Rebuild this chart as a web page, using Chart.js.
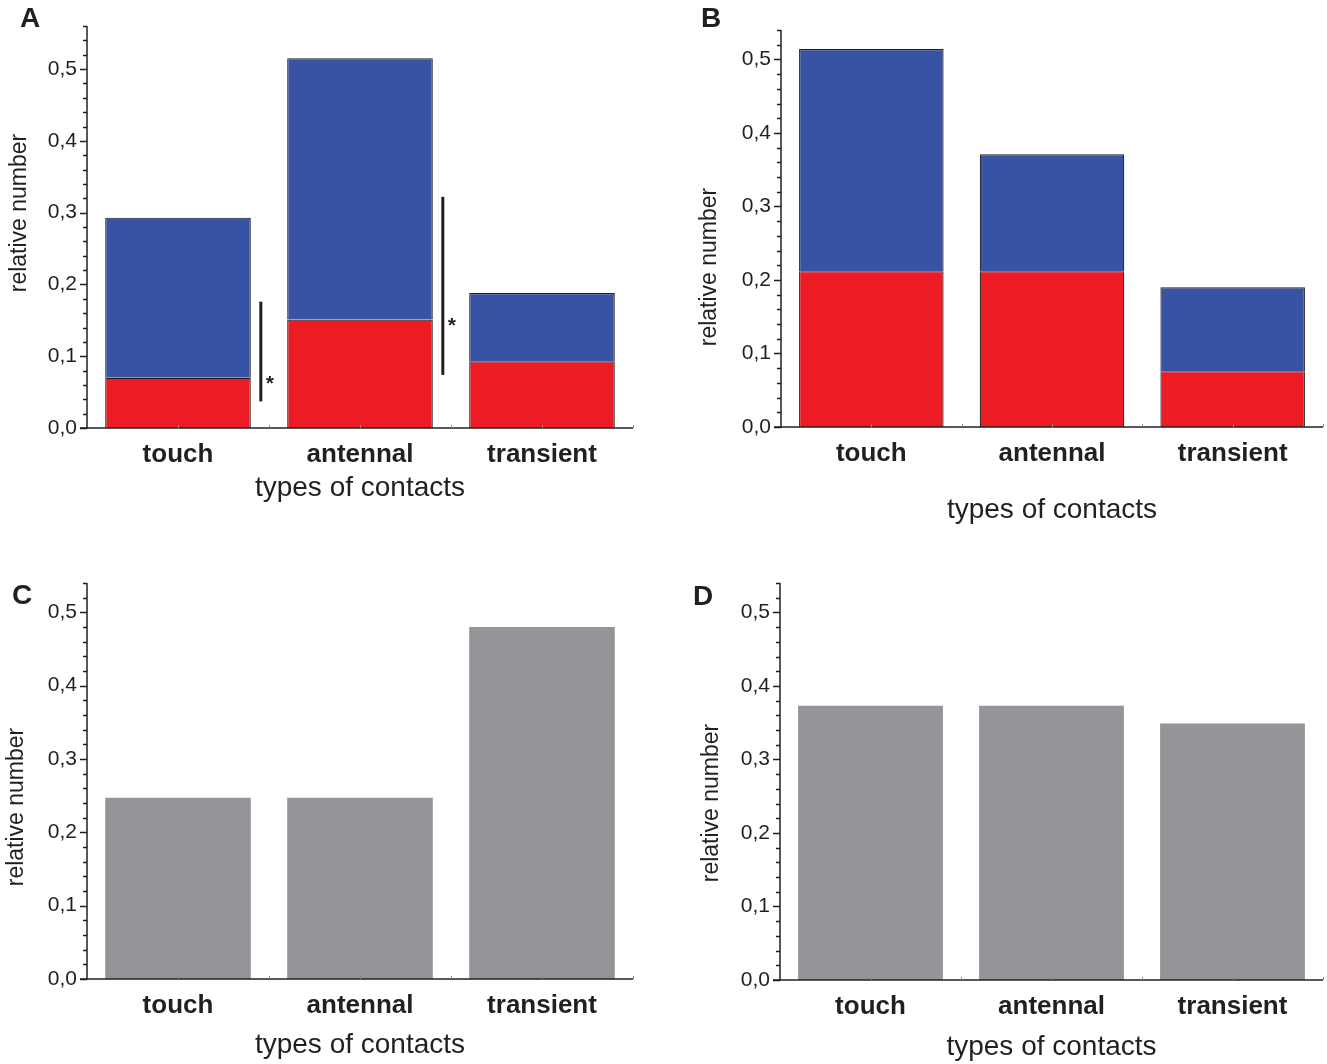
<!DOCTYPE html>
<html>
<head>
<meta charset="utf-8">
<script src="https://cdn.jsdelivr.net/npm/chart.js@4.4.1/dist/chart.umd.min.js"></script>
<style>
  body { margin: 0; background: #fff; }
  #page { position: relative; width: 1327px; height: 1064px; overflow: hidden; }
  .panel { position: absolute; }
</style>
</head>
<body>
<div id="page">
  <div class="panel" id="boxA" style="left:0;top:0;width:663px;height:530px"><canvas id="chartA"></canvas></div>
  <div class="panel" id="boxB" style="left:663px;top:0;width:664px;height:530px"><canvas id="chartB"></canvas></div>
  <div class="panel" id="boxC" style="left:0;top:530px;width:663px;height:534px"><canvas id="chartC"></canvas></div>
  <div class="panel" id="boxD" style="left:663px;top:530px;width:664px;height:534px"><canvas id="chartD"></canvas></div>
</div>
<script>
// ==================== DATA ====================
const categories = ['touch', 'antennal', 'transient'];

// Panel A (stacked: red part at the bottom, blue part on top)
const aRed = [0.070, 0.151, 0.093];
const aBlue = [0.223, 0.364, 0.095];
// significance bars in panel A (one between touch/antennal, one between antennal/transient)
const sigLow = [0.037, 0.074];
const sigHigh = [0.176, 0.322];
const sigStar = [0.067, 0.148];

// Panel B
const bRed = [0.212, 0.212, 0.076];
const bBlue = [0.302, 0.159, 0.114];

// Panels C and D
const cValues = [0.247, 0.247, 0.480];
const dValues = [0.373, 0.373, 0.349];

const yTickLabels = ['0,0', '0,1', '0,2', '0,3', '0,4', '0,5'];

// ==================== STYLE ====================
const ink = '#231F20';
const blue = '#3853A4';
const red = '#ED1C24';
const grey = '#939598';
const fontFamily = "'Liberation Sans', Arial, Helvetica, sans-serif";

// ==================== PLUGIN: axes decorations ====================
const decorPlugin = {
    id: 'decor',
    afterDraw(chart, args, opts) {
        const ctx = chart.ctx;
        const x = chart.scales.x;
        const y = chart.scales.y;
        const area = chart.chartArea;
        ctx.save();
        ctx.strokeStyle = ink;
        ctx.lineWidth = 1.5;

        // y axis line + major/minor ticks (outward)
        ctx.beginPath();
        ctx.moveTo(area.left, area.top);
        ctx.lineTo(area.left, area.bottom + 0.75);
        const n = Math.round(opts.max / 0.02);
        for (let k = 0; k <= n; k++) {
            const py = Math.round(y.getPixelForValue(k * 0.02)) + 0.5;
            const len = k % 5 === 0 ? 7 : 4;
            ctx.moveTo(area.left - len, py);
            ctx.lineTo(area.left, py);
        }
        ctx.stroke();

        // x axis line + small inward ticks at centers and boundaries
        ctx.beginPath();
        ctx.moveTo(area.left - 7, area.bottom);
        ctx.lineTo(area.right, area.bottom);
        ctx.stroke();
        ctx.lineWidth = 1;
        ctx.strokeStyle = '#8a8a8a';
        ctx.beginPath();
        for (let i = 0; i < categories.length; i++) {
            const cx = x.getPixelForValue(i);
            const w = x.width / categories.length;
            [cx, cx + w / 2].forEach(px => {
                ctx.moveTo(Math.round(px) + 0.5, area.bottom);
                ctx.lineTo(Math.round(px) + 0.5, area.bottom - 3);
            });
        }
        ctx.stroke();

        // significance bars
        if (opts.sig) {
            const w = x.width / categories.length;
            ctx.strokeStyle = ink;
            ctx.lineWidth = 3;
            ctx.fillStyle = ink;
            ctx.font = 'bold 21px ' + fontFamily;
            ctx.textAlign = 'center';
            ctx.textBaseline = 'middle';
            for (let i = 0; i < sigLow.length; i++) {
                const px = x.getPixelForValue(i) + 0.455 * w;
                ctx.beginPath();
                ctx.moveTo(px, y.getPixelForValue(sigHigh[i]));
                ctx.lineTo(px, y.getPixelForValue(sigLow[i]));
                ctx.stroke();
                ctx.fillText('*', px + 9, y.getPixelForValue(sigStar[i]) + 4);
            }
        }

        // y axis title
        ctx.fillStyle = ink;
        ctx.font = '23px ' + fontFamily;
        ctx.textAlign = 'center';
        ctx.textBaseline = 'middle';
        ctx.save();
        ctx.translate(opts.yTitle[0], opts.yTitle[1]);
        ctx.rotate(-Math.PI / 2);
        ctx.fillText('relative number', 0, 0);
        ctx.restore();

        // panel letter
        ctx.font = 'bold 28px ' + fontFamily;
        ctx.fillText(opts.letter, opts.letterPos[0], opts.letterPos[1]);
        ctx.restore();
    }
};

// ==================== CHART FACTORY ====================
function makePanel(canvasId, box, area, datasets, max, xTitleY, yTitle, letter, letterPos, sig) {
    const local = {
        l: area.l - box.left, r: area.r - box.left,
        t: area.t - box.top, b: area.b - box.top
    };
    const titleSize = 28;
    return new Chart(document.getElementById(canvasId), {
        type: 'bar',
        data: { labels: categories, datasets: datasets },
        plugins: [decorPlugin],
        options: {
            responsive: true,
            maintainAspectRatio: false,
            animation: false,
            events: [],
            layout: { padding: { left: 0, top: local.t, right: box.width - local.r, bottom: 0 } },
            plugins: {
                legend: { display: false },
                tooltip: { enabled: false },
                decor: {
                    max: max,
                    sig: sig,
                    yTitle: [yTitle[0] - box.left, yTitle[1] - box.top],
                    letter: letter,
                    letterPos: [letterPos[0] - box.left, letterPos[1] - box.top]
                }
            },
            datasets: { bar: { categoryPercentage: 1, barPercentage: 0.8 } },
            scales: {
                x: {
                    stacked: true,
                    grid: { display: false, drawTicks: false },
                    border: { display: false },
                    ticks: {
                        color: ink,
                        padding: 11,
                        font: { family: fontFamily, size: 26, weight: 'bold' }
                    },
                    title: {
                        display: true,
                        text: 'types of contacts',
                        color: ink,
                        font: { family: fontFamily, size: titleSize, lineHeight: 1 },
                        padding: { top: 0, bottom: (box.height - (xTitleY - box.top)) - titleSize / 2 }
                    },
                    afterFit: s => { s.height = box.height - local.b; }
                },
                y: {
                    stacked: true,
                    min: 0,
                    max: max,
                    grid: { display: false, drawTicks: false },
                    border: { display: false },
                    ticks: {
                        stepSize: 0.1,
                        includeBounds: false,
                        color: ink,
                        padding: 10,
                        font: { family: fontFamily, size: 21 },
                        callback: v => yTickLabels[Math.round(v * 10)]
                    },
                    afterFit: s => { s.width = local.l; }
                }
            }
        }
    });
}

function stacked(redVals, blueVals) {
    return [
        { label: 'red', data: redVals, backgroundColor: red, borderColor: ink, borderWidth: 1.2 },
        { label: 'blue', data: blueVals, backgroundColor: blue, borderColor: ink, borderWidth: 1.2 }
    ];
}

makePanel('chartA', { left: 0, top: 0, width: 663, height: 530 },
    { l: 87, r: 633, t: 26, b: 428 }, stacked(aRed, aBlue), 0.56, 488, [20, 213], 'A', [30, 19], true);

makePanel('chartB', { left: 663, top: 0, width: 664, height: 530 },
    { l: 781, r: 1323, t: 30, b: 427 }, stacked(bRed, bBlue), 0.54, 510, [710, 267], 'B', [711, 19], false);

makePanel('chartC', { left: 0, top: 530, width: 663, height: 534 },
    { l: 87, r: 633, t: 583, b: 979 },
    [{ label: 'C', data: cValues, backgroundColor: grey, borderWidth: 0 }], 0.54, 1045, [17, 807], 'C', [22, 596], false);

makePanel('chartD', { left: 663, top: 530, width: 664, height: 534 },
    { l: 780, r: 1323, t: 583, b: 980 },
    [{ label: 'D', data: dValues, backgroundColor: grey, borderWidth: 0 }], 0.54, 1047, [712, 803], 'D', [703, 597], false);
</script>
</body>
</html>
